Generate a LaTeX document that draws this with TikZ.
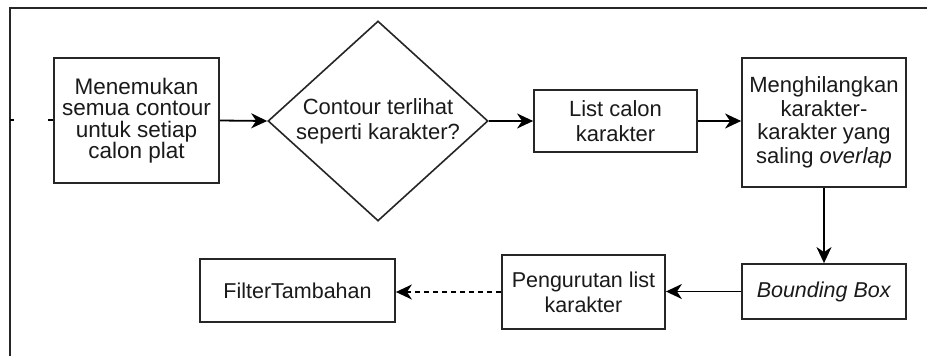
\documentclass[tikz,border=0pt]{standalone}
\usepackage{fontspec}
\setmainfont{Liberation Sans}
\usetikzlibrary{arrows.meta,shapes.geometric}
\definecolor{boxline}{HTML}{262626}
\definecolor{txt}{HTML}{1A1A1A}
\tikzset{
  procbox/.style={draw=boxline, line width=1.8pt, fill=white, align=center, inner sep=0pt,
    text=txt, font=\fontsize{22.5}{21.5}\selectfont},
  decbox/.style={diamond, draw=boxline, line width=1.6pt, fill=white, align=center, inner sep=0pt,
    aspect=1.1, text=txt, font=\fontsize{22}{25}\selectfont},
  flow/.style={line width=1.8pt, draw=black, -{Stealth[length=16pt,width=15pt,inset=5pt]}},
  dflow/.style={flow, dash pattern=on 5pt off 4pt},
  frameline/.style={line width=2.2pt, draw=black!85},
}
\begin{document}
\begin{tikzpicture}[x=1pt,y=-1pt]
\useasboundingbox (0,0) rectangle (927,356);
\fill[white] (0,0) rectangle (927,356);
% frame
\draw[frameline] (10,356) -- (10,8) -- (927,8);
\draw[line width=1.3pt] (10,120) -- (14,120);
\draw[line width=1.3pt] (48,120) -- (54,120);
% nodes
\node[procbox, minimum width=165pt, minimum height=125pt] (b1) at (136.5,120.5)
  {Menemukan\\semua contour\\untuk setiap\\calon plat};
\node[decbox, minimum width=220pt, minimum height=200pt] (dia) at (378,121)
  {Contour terlihat\\seperti karakter?};
\node[procbox, minimum width=163pt, minimum height=62pt, font=\fontsize{22}{25}\selectfont] (lst) at (615.5,121)
  {List calon\\karakter};
\node[procbox, minimum width=164pt, minimum height=129pt, font=\fontsize{22}{23.5}\selectfont] (hil) at (824,122.5)
  {Menghilangkan\\karakter-\\karakter yang\\saling \textit{overlap}};
\node[procbox, minimum width=164pt, minimum height=55pt, font=\fontsize{21.5}{25}\selectfont] (bb) at (824,291.5)
  {\textit{Bounding Box}};
\node[procbox, minimum width=163pt, minimum height=74pt, font=\fontsize{21.5}{25}\selectfont] (pen) at (583.5,292)
  {Pengurutan list\\karakter};
\node[procbox, minimum width=195pt, minimum height=63pt, font=\fontsize{21.5}{25}\selectfont] (fil) at (297.5,290.5)
  {FilterTambahan};
% connectors
\draw[flow] (b1.east) -- (dia.west);
\draw[flow] (dia.east) -- (lst.west);
\draw[flow] (lst.east) -- (lst.east -| hil.west);
\draw[flow] (hil.south) -- (bb.north);
\draw[flow] (bb.west) -- (bb.west -| pen.east);
\draw[dflow] (pen.west) -- (pen.west -| fil.east);
\end{tikzpicture}
\end{document}
